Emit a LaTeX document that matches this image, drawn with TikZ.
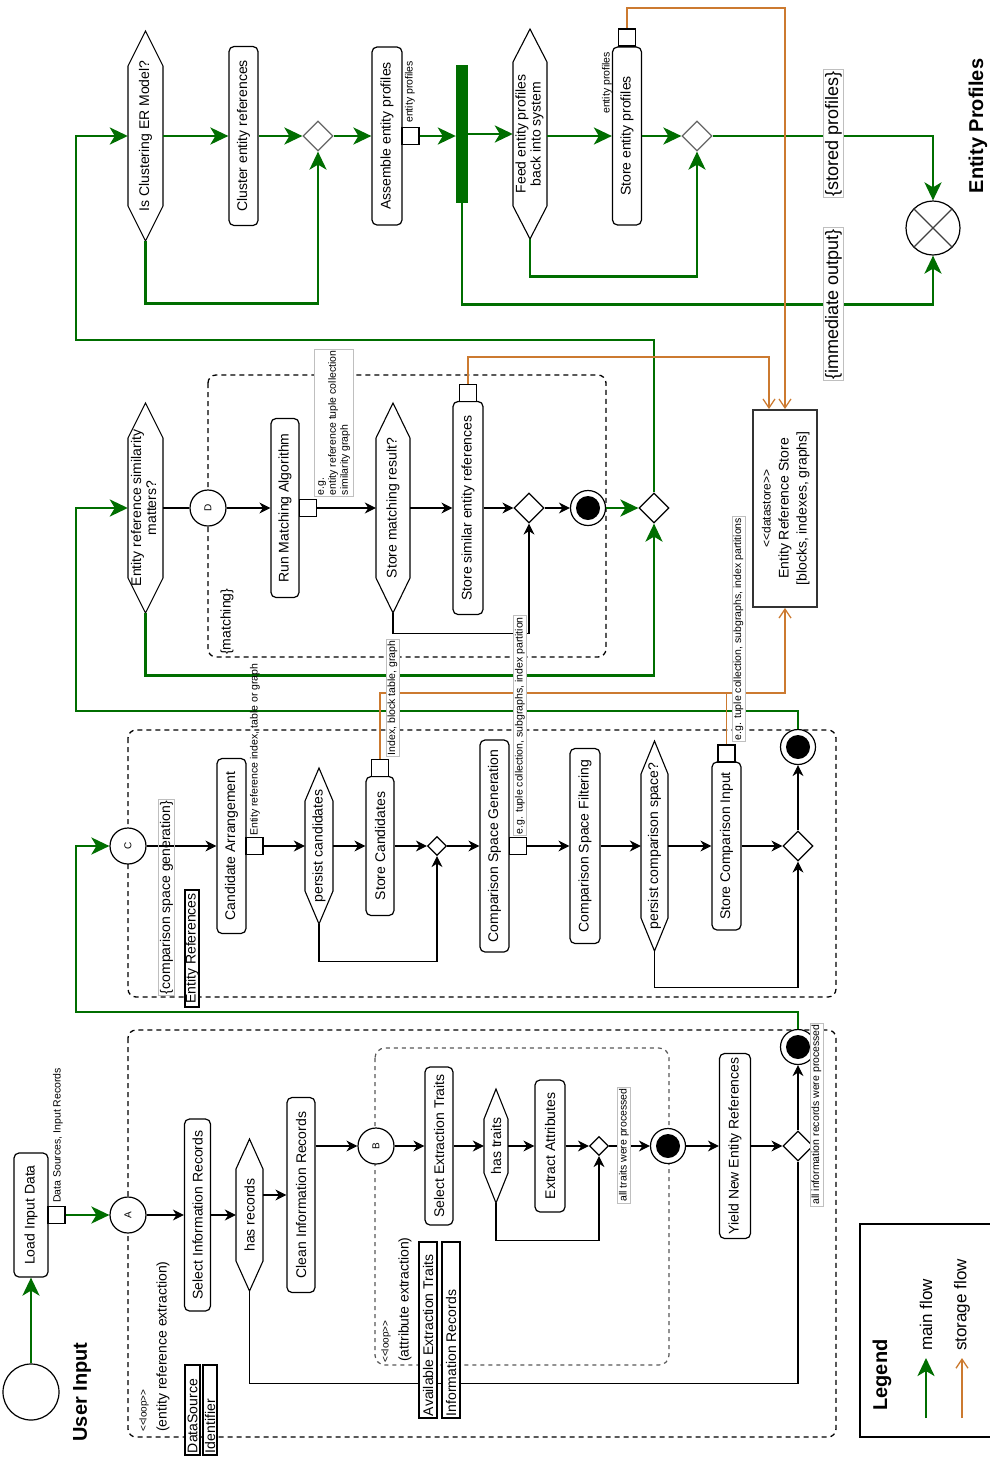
\documentclass[tikz,border=0pt]{standalone}
\usepackage{fontspec}
\setmainfont{Liberation Sans}
\usetikzlibrary{arrows.meta,shapes.geometric,calc}
\definecolor{mygreen}{RGB}{0,110,0}
\definecolor{myorange}{RGB}{204,122,48}
% hexagon decision: name, cx, cy, half width, half height, point height, text
\newcommand{\hexa}[7]{%
  \filldraw[hexline] (#2,#3-#5) -- (#2+#4,#3-#5+#6) -- (#2+#4,#3+#5-#6) -- (#2,#3+#5) -- (#2-#4,#3+#5-#6) -- (#2-#4,#3-#5+#6) -- cycle;
  \node[hexin, minimum width=2*#4, minimum height=2*#5] (#1) at (#2,#3) {\rotatebox{90}{#7}};}
\newcommand{\stereo}[1]{<{}<#1>{}>}
\begin{document}
\begin{tikzpicture}[x=1pt,y=-1pt,
 actbox/.style={draw, rounded corners=5pt, fill=white, line width=1.2pt, inner sep=0pt, font=\fontsize{14}{16}\selectfont},
 hexin/.style={inner sep=0pt, font=\fontsize{14}{15}\selectfont},
 hexline/.style={draw=black, fill=white, line width=1.1pt, line join=miter},
 pinbox/.style={draw, fill=white, line width=1.1pt, minimum size=17pt, inner sep=0pt},
 lblbox/.style={draw=black!25, line width=0.6pt, fill=white, inner sep=1.5pt, font=\fontsize{10.5}{12}\selectfont},
 smalltext/.style={inner sep=0pt, font=\fontsize{10.5}{12}\selectfont},
 bigtext/.style={inner sep=0pt, font=\fontsize{14}{16}\selectfont},
 titletext/.style={inner sep=0pt, font=\bfseries\fontsize{20}{24}\selectfont},
 attrbox/.style={draw, line width=1.3pt, fill=white, inner sep=0pt, font=\fontsize{14}{16}\selectfont},
 letternode/.style={circle, draw, fill=white, line width=1.2pt, minimum size=36pt, inner sep=0pt, font=\fontsize{10}{12}\selectfont},
 finalnode/.style={circle, draw, fill=white, line width=1.2pt, minimum size=35pt, inner sep=0pt, path picture={\fill[black] (path picture bounding box.center) circle (12pt);}},
 decnode/.style={diamond, draw, fill=white, line width=1.2pt, inner sep=0pt, minimum width=30pt, minimum height=30pt},
 loopbox/.style={draw, dash pattern=on 5pt off 4pt, line width=1.3pt, rounded corners=8pt},
 innerloop/.style={draw=black!65, dash pattern=on 4pt off 4pt, line width=1.2pt, rounded corners=10pt},
 blackarr/.style={draw, line width=1.1pt, -{Stealth[length=11pt,width=11pt,inset=3.5pt]}},
 bline/.style={draw, line width=1.1pt},
 garr/.style={draw=mygreen, line width=2.8pt, -{Stealth[length=18pt,width=17pt,inset=5pt]}},
 oarr/.style={draw=myorange, line width=1.3pt, -{Straight Barb[length=9pt,width=12pt]}},
 oline/.style={draw=myorange, line width=1.3pt}
]
\fill[white] (0,0) rectangle (990,1457);
\useasboundingbox (0,0) rectangle (990,1457);

% ---------- loop frames ----------
\draw[loopbox] (128,1030) rectangle (836,1437);
\draw[innerloop] (375,1048) rectangle (669,1365);
\draw[loopbox] (128,730) rectangle (836,997);
\draw[loopbox] (208,375) rectangle (606,657);

% ---------- row 1 : entity reference extraction ----------
\node[circle, draw, line width=1.2pt, minimum size=56pt, inner sep=0pt] (start) at (31,1392) {};
\node[titletext] (userin) at (82,1392) {\rotatebox{90}{User Input}};
\node[actbox, minimum width=34pt, minimum height=124pt] (load) at (31,1215) {\rotatebox{90}{Load Input Data}};
\node[pinbox] (pload) at (56.5,1215) {};
\node[letternode] (A) at (128,1215) {\rotatebox{90}{A}};
\node[actbox, minimum width=26pt, minimum height=192pt] (selinfo) at (197.5,1215) {\rotatebox{90}{Select Information Records}};
\hexa{hasrec}{249.5}{1215}{13.5}{76}{30}{has records}
\node[actbox, minimum width=28pt, minimum height=195pt] (clean) at (301,1195) {\rotatebox{90}{Clean Information Records}};
\node[letternode] (B) at (376,1146) {\rotatebox{90}{B}};
\node[actbox, minimum width=28pt, minimum height=158pt] (selext) at (439,1146) {\rotatebox{90}{Select Extraction Traits}};
\hexa{hastraits}{496}{1146}{12}{57}{30}{has traits}
\node[actbox, minimum width=30pt, minimum height=132pt] (extattr) at (550,1146) {\rotatebox{90}{Extract Attributes}};
\node[decnode, minimum width=19pt, minimum height=19pt] (d1) at (599,1146) {};
\node[finalnode] (F1) at (668,1146) {};
\node[actbox, minimum width=31pt, minimum height=185pt] (yield) at (735,1146) {\rotatebox{90}{Yield New Entity References}};
\node[decnode] (d2) at (798,1146) {};
\node[finalnode] (F2) at (798,1047) {};

% ---------- row 2 : comparison space generation ----------
\node[letternode] (C) at (128,846) {\rotatebox{90}{C}};
\node[actbox, minimum width=29pt, minimum height=175pt] (candarr) at (231.5,846) {\rotatebox{90}{Candidate Arrangement}};
\node[pinbox] (pcand) at (254.5,846) {};
\hexa{persistcand}{319}{846}{14}{78}{33}{persist candidates}
\node[actbox, minimum width=28pt, minimum height=139pt] (storecand) at (380,846) {\rotatebox{90}{Store Candidates}};
\node[pinbox] (pstorecand) at (380,768) {};
\node[decnode, minimum width=19pt, minimum height=19pt] (d3) at (437,846) {};
\node[actbox, minimum width=29pt, minimum height=212pt] (compgen) at (494.5,846) {\rotatebox{90}{Comparison Space Generation}};
\node[pinbox] (pcompgen) at (518,846) {};
\node[actbox, minimum width=30pt, minimum height=195pt] (compfilt) at (585,846) {\rotatebox{90}{Comparison Space Filtering}};
\hexa{persistcomp}{654.5}{846}{13.5}{105}{33}{persist comparison space?}
\node[actbox, minimum width=29pt, minimum height=168pt] (storecomp) at (726.5,846) {\rotatebox{90}{Store Comparison Input}};
\node[pinbox] (pstorecomp) at (726.5,753.5) {};
\node[decnode] (d4) at (798,846) {};
\node[finalnode] (F3) at (798,747) {};

% ---------- row 3 : matching ----------
\hexa{ersim}{145.5}{508}{17.5}{105}{35}{\begin{tabular}{@{}c@{}}Entity reference similarity\\matters?\end{tabular}}
\node[letternode] (D) at (208,508) {\rotatebox{90}{D}};
\node[actbox, minimum width=28pt, minimum height=179pt] (runmatch) at (285,508) {\rotatebox{90}{Run Matching Algorithm}};
\node[pinbox] (prun) at (308,508) {};
\hexa{storematch}{393}{508}{17}{105}{35}{Store matching result?}
\node[actbox, minimum width=30pt, minimum height=213pt] (storesim) at (468,508) {\rotatebox{90}{Store similar entity references}};
\node[pinbox] (pstoresim) at (468,393) {};
\node[decnode] (d5) at (529,508) {};
\node[finalnode] (F4) at (588,508) {};
\node[decnode] (d6) at (654,508) {};
\node[draw=black!80, line width=1.8pt, fill=white, minimum width=64pt, minimum height=197pt, inner sep=0pt, font=\fontsize{14}{18}\selectfont] (store) at (785,508.5)
  {\rotatebox{90}{\begin{tabular}{@{}c@{}}{\fontsize{12}{14}\selectfont \stereo{datastore}}\\Entity Reference Store\\{[blocks, indexes, graphs]}\end{tabular}}};

% ---------- row 4 : entity profiles ----------
\hexa{isclust}{145.5}{136}{17.5}{105}{35}{Is Clustering ER Model?}
\node[actbox, minimum width=29pt, minimum height=179pt] (cluster) at (243.5,136) {\rotatebox{90}{Cluster entity references}};
\node[decnode, draw=black!60] (d7) at (318,136) {};
\node[actbox, minimum width=30pt, minimum height=178pt] (assemble) at (387,136) {\rotatebox{90}{Assemble entity profiles}};
\node[pinbox] (passemble) at (410.5,136) {};
\node[fill=mygreen, minimum width=12pt, minimum height=138pt, inner sep=0pt] (fork) at (462,134) {};
\hexa{feed}{530}{134}{17}{105}{33}{\begin{tabular}{@{}c@{}}Feed entity profiles\\back into system\end{tabular}}
\node[actbox, minimum width=29pt, minimum height=178pt] (storeprof) at (627,136) {\rotatebox{90}{Store entity profiles}};
\node[pinbox] (pstoreprof) at (627,37.5) {};
\node[decnode, draw=black!60] (d8) at (697,136) {};
\node[circle, draw, fill=white, line width=1.2pt, minimum size=54pt, inner sep=0pt] (xc) at (933,228) {};
\draw[line width=1.1pt, black!75] (xc.north east) -- (xc.south west) (xc.north west) -- (xc.south east);
\node[titletext] (entprof) at (978,126) {\rotatebox{90}{Entity Profiles}};

% ---------- connectors row 1 ----------
\draw[garr] (start.north) -- (load.south);
\draw[garr] (pload.east) -- (A.west);
\draw[blackarr] (A.east) -- (selinfo.west);
\draw[blackarr] (selinfo.east) -- (hasrec.west);
\draw[blackarr] (hasrec.east |- clean.west) -- (clean.west);
\draw[blackarr] (clean.east |- B.west) -- (B.west);
\draw[blackarr] (B.east) -- (selext.west);
\draw[blackarr] (selext.east) -- (hastraits.west);
\draw[blackarr] (hastraits.east) -- (extattr.west);
\draw[blackarr] (extattr.east) -- (d1.west);
\draw[blackarr] (hastraits.south) -- ++(0,37) -| (d1.south);
\draw[blackarr] (d1.east) -- (F1.west);
\draw[blackarr] (F1.east) -- (yield.west);
\draw[blackarr] (yield.east) -- (d2.west);
\draw[blackarr] (d2.north) -- (F2.south);
\draw[bline] (hasrec.south) -- ++(0,92) -| (d2.south);
\coordinate (g1) at (76,1012);
\draw[garr] (F2.north) |- (g1) |- (C.west);

% ---------- connectors row 2 ----------
\draw[blackarr] (C.east) -- (candarr.west);
\draw[blackarr] (pcand.east) -- (persistcand.west);
\draw[blackarr] (persistcand.east) -- (storecand.west);
\draw[blackarr] (storecand.east) -- (d3.west);
\draw[blackarr] (persistcand.south) -- ++(0,37) -| (d3.south);
\draw[blackarr] (d3.east) -- (compgen.west);
\draw[blackarr] (pcompgen.east) -- (compfilt.west);
\draw[blackarr] (compfilt.east) -- (persistcomp.west);
\draw[blackarr] (persistcomp.east) -- (storecomp.west);
\draw[blackarr] (storecomp.east) -- (d4.west);
\draw[blackarr] (persistcomp.south) -- ++(0,36) -| (d4.south);
\draw[blackarr] (d4.north) -- (F3.south);
\coordinate (g2) at (76,711);
\draw[garr] (F3.north) |- (g2) |- (ersim.west);
\coordinate (o1) at (785,693);
\draw[oarr] (pstorecand.north) |- (o1) -- (store.south);
\draw[oline] (pstorecomp.north) -- (pstorecomp.north |- o1);

% ---------- connectors row 3 ----------
\draw[bline] (ersim.east) -- (D.west);
\draw[blackarr] (D.east) -- (runmatch.west);
\draw[blackarr] (prun.east) -- (storematch.west);
\draw[blackarr] (storematch.east) -- (storesim.west);
\draw[blackarr] (storesim.east) -- (d5.west);
\draw[blackarr] (storematch.south) -- ++(0,20) -| (d5.south);
\draw[blackarr] (d5.east) -- (F4.west);
\draw[garr] (F4.east) -- (d6.west);
\draw[garr] (ersim.south) -- ++(0,62) -| (d6.south);
\coordinate (g3) at (76,340);
\draw[garr] (d6.north) |- (g3) |- (isclust.west);
\coordinate (o2) at (769,357);
\draw[oarr] (pstoresim.north) |- (o2) -- (o2 |- store.north);

% ---------- connectors row 4 ----------
\draw[garr] (isclust.east) -- (cluster.west);
\draw[garr] (cluster.east) -- (d7.west);
\draw[garr] (isclust.south) -- ++(0,62) -| (d7.south);
\draw[garr] (d7.east) -- (assemble.west);
\draw[garr] (passemble.east) -- (fork.west |- passemble.east);
\draw[garr] (fork.east |- feed.west) -- (feed.west);
\draw[garr] (feed.east |- storeprof.west) -- (storeprof.west);
\draw[garr] (storeprof.east) -- (d8.west);
\draw[garr] (feed.south) -- ++(0,37) -| (d8.south);
\draw[garr] (fork.south) -- ++(0,101) -| (xc.south);
\draw[garr] (d8.east) -| (xc.north);
\coordinate (o3) at (785,8);
\draw[oarr] (pstoreprof.north) |- (o3) -- (store.north);

% ---------- labels and texts ----------
\node[smalltext, anchor=south] (lbl1) at (58,1203) {\rotatebox{90}{Data Sources, Input Records}};
\node[inner sep=0pt, font=\fontsize{10}{12}\selectfont, anchor=south] (loop1) at (144,1432) {\rotatebox{90}{\stereo{loop}}};
\node[bigtext, anchor=south] (loopname1) at (163,1432) {\rotatebox{90}{(entity reference extraction)}};
\node[attrbox, minimum width=15pt, minimum height=90pt] (attr1) at (192.5,1410) {\rotatebox{90}{\makebox[86pt][l]{DataSource}}};
\node[attrbox, minimum width=14pt, minimum height=90pt] (attr2) at (210,1410) {\rotatebox{90}{\makebox[86pt][l]{Identifier}}};
\node[inner sep=0pt, font=\fontsize{10}{12}\selectfont, anchor=south] (loop2) at (386,1363) {\rotatebox{90}{\stereo{loop}}};
\node[bigtext, anchor=south] (loopname2) at (405,1362) {\rotatebox{90}{(attribute extraction)}};
\node[attrbox, minimum width=18pt, minimum height=176pt] (attr3) at (428,1330) {\rotatebox{90}{\makebox[172pt][l]{Available Extraction Traits}}};
\node[attrbox, minimum width=18pt, minimum height=176pt] (attr4) at (451,1330) {\rotatebox{90}{\makebox[172pt][l]{Information Records}}};
\node[lblbox] (lbl2) at (624,1145) {\rotatebox{90}{all traits were processed}};
\node[lblbox] (lbl3) at (816.5,1114.5) {\rotatebox{90}{all information records were processed}};

\node[draw=black!25, line width=0.6pt, inner sep=1.5pt, font=\fontsize{14}{16}\selectfont] (loopname3) at (166.5,897.5) {\rotatebox{90}{\{comparison space generation\}}};
\node[attrbox, minimum width=14pt, minimum height=117pt] (attr5) at (192,948.5) {\rotatebox{90}{Entity References}};
\node[smalltext, anchor=south] (lbl4) at (255,836) {\rotatebox{90}{Entity reference index, table or graph}};
\node[lblbox, anchor=south] (lbl5) at (392.5,757) {\rotatebox{90}{Index, block table, graph}};
\node[lblbox, anchor=south] (lbl6) at (520,836) {\rotatebox{90}{e.g. tuple collection, subgraphs, index partition}};
\node[lblbox, anchor=south] (lbl7) at (738.5,742) {\rotatebox{90}{e.g. tuple collection, subgraphs, index partitions}};

\node[bigtext, anchor=south] (loopname4) at (227,655) {\rotatebox{90}{\{matching\}}};
\node[lblbox, anchor=south] (lbl8) at (333.5,497) {\rotatebox{90}{\begin{tabular}{@{}l@{}}e.g.\\entity reference tuple collection\\similarity graph\end{tabular}}};

\node[smalltext, anchor=south] (lbl9) at (410,123) {\rotatebox{90}{entity profiles}};
\node[smalltext, anchor=south] (lbl10) at (607,114) {\rotatebox{90}{entity profiles}};
\node[draw=black!25, line width=0.6pt, fill=white, inner sep=1.5pt, font=\fontsize{18}{20}\selectfont] (lbl11) at (833.5,133.5) {\rotatebox{90}{\{stored profiles\}}};
\node[draw=black!25, line width=0.6pt, fill=white, inner sep=1.5pt, font=\fontsize{18}{20}\selectfont] (lbl12) at (833.5,304) {\rotatebox{90}{\{immediate output\}}};

% ---------- legend ----------
\draw[line width=1.3pt] (860,1224) rectangle (1000,1437);
\node[titletext] (legt) at (882,1375) {\rotatebox{90}{Legend}};
\coordinate (lga) at (926,1418);
\coordinate (lgb) at (926,1358);
\draw[garr] (lga) -- (lgb);
\node[inner sep=0pt, font=\fontsize{17}{20}\selectfont, anchor=south] (lgt1) at (926,1351) {\rotatebox{90}{main flow}};
\coordinate (lgc) at (962,1418);
\coordinate (lgd) at (962,1358);
\draw[oarr] (lgc) -- (lgd);
\node[inner sep=0pt, font=\fontsize{17}{20}\selectfont, anchor=south] (lgt2) at (962,1351) {\rotatebox{90}{storage flow}};
\end{tikzpicture}
\end{document}
